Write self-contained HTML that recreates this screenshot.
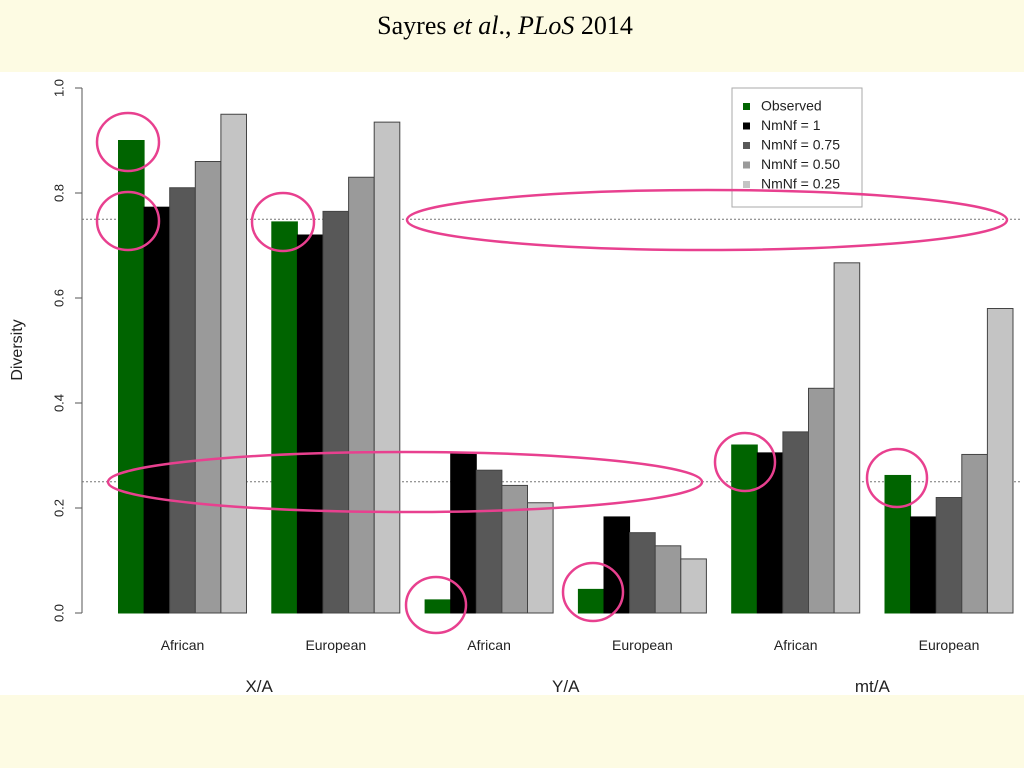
<!DOCTYPE html>
<html><head><meta charset="utf-8"><style>
html,body{margin:0;padding:0;width:1024px;height:768px;overflow:hidden;background:#fff}
svg{display:block}
text{font-family:"Liberation Sans",Arial,sans-serif;fill:#222}
</style></head><body>
<svg id="chart" width="1024" height="768" xmlns="http://www.w3.org/2000/svg">
<rect x="0" y="0" width="1024" height="72" fill="#fdfbe3"/>
<rect x="0" y="695" width="1024" height="73" fill="#fdfbe3"/>
<text x="505" y="34" text-anchor="middle" style="font-family:'Liberation Serif',serif;font-size:26px;fill:#000">Sayres <tspan font-style="italic">et al</tspan>., <tspan font-style="italic">PLoS</tspan> 2014</text>
<g id="axes"></g>
<g id="bars"></g>
<g id="annot"></g>
</svg>
<script>
const categories = ["African","European","African","European","African","European"];
const groups = ["X/A","Y/A","mt/A"];
const seriesNames = ["Observed","NmNf = 1","NmNf = 0.75","NmNf = 0.50","NmNf = 0.25"];
const observed = [0.90,0.745,0.025,0.045,0.32,0.262];
const nm1 = [0.773,0.72,0.305,0.183,0.305,0.183];
const nm075 = [0.81,0.765,0.272,0.153,0.345,0.22];
const nm050 = [0.86,0.83,0.243,0.128,0.428,0.302];
const nm025 = [0.95,0.935,0.21,0.103,0.667,0.58];
const yTicks = ["0.0","0.2","0.4","0.6","0.8","1.0"];
const refLines = [0.75,0.25];

const NS="http://www.w3.org/2000/svg";
const y0=613, y1=88;
function yScale(v){return y0-(y0-y1)*v;}
const bw=25.6, x0=118.5, gstep=153.3;
function xScale(cat,s){return x0+cat*gstep+s*bw;}
function mk(tag,attrs,parent){const e=document.createElementNS(NS,tag);for(const k in attrs)e.setAttribute(k,attrs[k]);parent.appendChild(e);return e;}
const axes=document.getElementById('axes'), bars=document.getElementById('bars'), annot=document.getElementById('annot');

// y axis
let ax=mk('line',{x1:82,x2:82,y1:yScale(0),y2:yScale(1),stroke:'#555','stroke-width':1},axes);


yTicks.forEach(t=>{
  const v=parseFloat(t), y=yScale(v);
  const tk=mk('line',{x1:75,x2:82,y1:y,y2:y,stroke:'#555'},axes);
  
  
  const tl=mk('text',{x:60,y:y,'text-anchor':'middle',transform:`rotate(-90 60 ${y})`,'font-size':13,'dominant-baseline':'middle'},axes);
  tl.textContent=t;
  
  
});
const yt=mk('text',{x:18,y:350,'text-anchor':'middle',transform:'rotate(-90 18 350)','font-size':16,'dominant-baseline':'middle'},axes);
yt.textContent='Diversity';



// ref lines
refLines.forEach(v=>{
  const l=mk('line',{x1:82,x2:1020,y1:yScale(v),y2:yScale(v),stroke:'#777','stroke-dasharray':'2,2','stroke-width':1},axes);
  
  
});

// bars
const series=[observed,nm1,nm075,nm050,nm025];
const fills=['#006400','#000000','#585858','#9a9a9a','#c4c4c4'];
series.forEach((arr,s)=>{
  arr.forEach((v,c)=>{
    const r=mk('rect',{x:xScale(c,s),y:yScale(v),width:bw,height:yScale(0)-yScale(v),fill:fills[s],stroke:(s<2?fills[s]:'#444'),'stroke-width':1},bars);
    
    
  });
});
// category labels
categories.forEach((c,i)=>{
  const t=mk('text',{x:xScale(i,2.5),y:650,'text-anchor':'middle','font-size':14},axes);
  t.textContent=c;
  
  
});
groups.forEach((g,i)=>{
  const t=mk('text',{x:(xScale(2*i,2.5)+xScale(2*i+1,2.5))/2,y:692,'text-anchor':'middle','font-size':17},axes);
  t.textContent=g;
  
  
});

// legend
const lg=mk('g',{},axes);


mk('rect',{x:732,y:88,width:130,height:119,fill:'#fff',stroke:'#aaa'},lg);
seriesNames.forEach((n,i)=>{
  const y=107+i*19.5;
  const sq=mk('rect',{x:743,y:y-4,width:7,height:7,fill:fills[i]},lg);
  
  
  const t=mk('text',{x:761,y:y,'font-size':14,'dominant-baseline':'middle'},lg);
  t.textContent=n;
  
  
});

// pink annotations
const circles=[[128,142,31,29],[128,221,31,29],[283,222,31,29],[436,605,30,28],[593,592,30,29],[745,462,30,29],[897,478,30,29],[707,220,300,30],[405,482,297,30]];
circles.forEach(c=>{
  const e=mk('ellipse',{cx:c[0],cy:c[1],rx:c[2],ry:c[3],fill:'none',stroke:'#e8408f','stroke-width':2.5},annot);
  
  
});
</script>
</body></html>
